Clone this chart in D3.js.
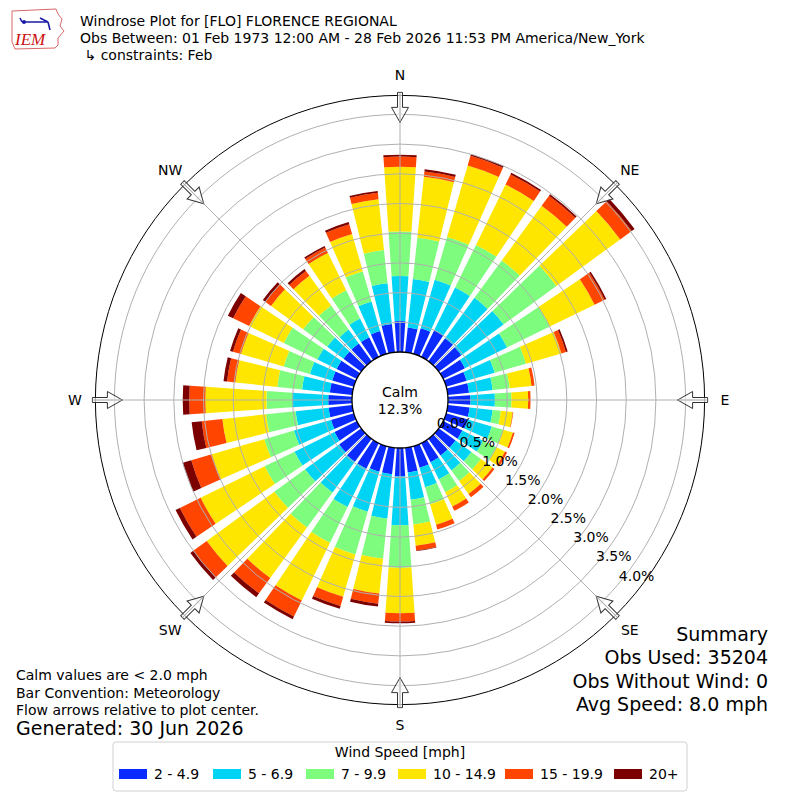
<!DOCTYPE html>
<html><head><meta charset="utf-8">
<script src="https://cdn.jsdelivr.net/npm/d3@7"></script>
<style>body{margin:0;background:#fff} svg{font-family:"DejaVu Sans",sans-serif}</style>
</head><body><svg id="c" width="800" height="800"></svg>
<script>
// ---- data ----
const directions = d3.range(0, 360, 10);
const speedBins = ["2 - 4.9", "5 - 6.9", "7 - 9.9", "10 - 14.9", "15 - 19.9", "20+"];
const binColors = ["#0a2aff", "#00d4f5", "#7dfc7d", "#ffe600", "#ff4500", "#7d0000"];
// percent frequency per direction (0,10,...,350) for each speed bin
const bin2to5   = [.52,.42,.45,.50,.48,.47,.41,.36,.36,.38,.37,.38,.36,.35,.35,.36,.38,.42,.48,.45,.45,.48,.48,.46,.42,.40,.40,.40,.38,.38,.38,.37,.37,.37,.40,.48];
const bin5to7   = [.76,.82,.85,.80,.84,.88,.79,.49,.40,.41,.39,.42,.39,.33,.31,.32,.34,.46,.82,.75,.70,.72,.64,.71,.75,.65,.56,.61,.47,.39,.36,.34,.29,.35,.52,.69];
const bin7to10  = [.75,.70,.75,.80,.78,1.10,.80,.55,.29,.28,.14,.20,.25,.20,.22,.24,.30,.42,.72,.68,.75,.67,.73,.64,.56,.52,.50,.43,.42,.46,.63,.50,.50,.53,.53,.56];
const bin10to15 = [1.09,1.03,1.25,1.13,1.14,1.33,.84,.62,.37,.28,.20,.17,.16,.24,.27,.27,.36,.36,.76,.59,.74,1.08,1.05,1.41,1.20,.92,.74,1.03,.71,.75,.65,.67,.62,.70,.65,.86];
const bin15to20 = [.17,.09,.17,.19,.21,.24,.19,.08,.05,.04,.01,.03,.04,.04,.07,.08,.08,.08,.14,.17,.16,.30,.32,.28,.39,.36,.35,.27,.14,.14,.30,.12,.10,.10,.17,.11];
const bin20plus = [.03,.04,.03,.03,.03,.06,.03,.03,0,0,0,0,0,0,0,0,0,.01,.03,.05,.05,.05,.08,.06,.08,.15,.17,.11,.06,.05,.10,.05,.04,.03,.04,.03];
const radialTicks = [0, 0.5, 1.0, 1.5, 2.0, 2.5, 3.0, 3.5, 4.0];
const compass = ["N","NE","E","SE","S","SW","W","NW"];
const calmPct = "12.3%";
const titleLines = ["Windrose Plot for [FLO] FLORENCE REGIONAL",
  "Obs Between: 01 Feb 1973 12:00 AM - 28 Feb 2026 11:53 PM America/New_York",
  " \u21b3 constraints: Feb"];
const noteLines = ["Calm values are < 2.0 mph", "Bar Convention: Meteorology", "Flow arrows relative to plot center."];
const generated = "Generated: 30 Jun 2026";
const summaryLines = ["Summary", "Obs Used: 35204", "Obs Without Wind: 0", "Avg Speed: 8.0 mph"];

// ---- build ----
const binArrays = [bin2to5, bin5to7, bin7to10, bin10to15, bin15to20, bin20plus];
const rows = directions.map((d, i) => {
  const o = {dir: d};
  speedBins.forEach((b, j) => o[b] = binArrays[j][i]);
  return o;
});
const stacked = d3.stack().keys(speedBins)(rows);

const svg = d3.select("#c");
const cx = 400, cy = 400;
const r = d3.scaleLinear().domain([0, 4]).range([48, 285.6]);
const rOuter = r(4.32);
const g = svg.append("g").attr("transform", `translate(${cx},${cy})`);
const rad = Math.PI / 180;
const half = 3.9;

const arc = d3.arc()
  .innerRadius(d => r(d[0]))
  .outerRadius(d => r(d[1]))
  .startAngle(d => (d.data.dir - half) * rad)
  .endAngle(d => (d.data.dir + half) * rad);

stacked.forEach((layer, j) => {
  g.append("g").selectAll("path").data(layer).join("path")
    .attr("d", arc).attr("fill", binColors[j]);
});

// grid rings
g.append("g").selectAll("circle").data(radialTicks.slice(1)).join("circle")
  .attr("r", d => r(d)).attr("fill", "none").attr("stroke", "#b0b0b0").attr("stroke-width", 1);
// radial lines
g.append("g").selectAll("line").data(d3.range(0, 360, 45)).join("line")
  .attr("x1", 0).attr("y1", 0)
  .attr("x2", d => rOuter * Math.sin(d * rad)).attr("y2", d => -rOuter * Math.cos(d * rad))
  .attr("stroke", "#b0b0b0").attr("stroke-width", 1);
// outer circle
g.append("circle").attr("r", rOuter).attr("fill", "none").attr("stroke", "#000").attr("stroke-width", 1);
// calm circle
g.append("circle").attr("r", r(0)).attr("fill", "#fff").attr("stroke", "#000").attr("stroke-width", 1.3);
g.append("text").attr("y", -3).attr("text-anchor", "middle").attr("font-size", 14).text("Calm");
g.append("text").attr("y", 14).attr("text-anchor", "middle").attr("font-size", 14).text(calmPct);

// arrows
const a0 = rOuter + 3, a1 = rOuter - 12, a2 = rOuter - 27;
const arrowPts = [[-2.5,-a0],[2.5,-a0],[2.5,-a1],[8.5,-a1],[0,-a2],[-8.5,-a1],[-2.5,-a1]];
g.append("g").selectAll("g").data(d3.range(0, 360, 45)).join("g")
  .attr("transform", d => `rotate(${d})`)
  .each(function() {
    const s = d3.select(this);
    s.append("path").attr("d", d3.line()(arrowPts) + "Z")
      .attr("fill", "#fff").attr("fill-opacity", 0.6).attr("stroke", "#333").attr("stroke-width", 1);
    s.append("line").attr("x1", 0).attr("x2", 0).attr("y1", -a0).attr("y2", -a2)
      .attr("stroke", "#b0b0b0").attr("stroke-width", 1);
  });

// compass labels
g.append("g").selectAll("text").data(compass).join("text")
  .attr("x", (d, i) => 325 * Math.sin(i * 45 * rad))
  .attr("y", (d, i) => -325 * Math.cos(i * 45 * rad))
  .attr("text-anchor", "middle").attr("dominant-baseline", "central")
  .attr("font-size", 14).text(d => d);

// radial tick labels
const la = 130 * rad;
g.append("g").selectAll("text").data(radialTicks).join("text")
  .attr("x", d => r(d) * Math.sin(la))
  .attr("y", d => -r(d) * Math.cos(la) - 3)
  .attr("font-size", 14).text(d => d.toFixed(1) + "%");

// title
svg.append("g").selectAll("text").data(titleLines).join("text")
  .attr("x", 80).attr("y", (d, i) => 25.5 + i * 17)
  .attr("font-size", 14).attr("xml:space", "preserve").text(d => d);

// logo
const logo = svg.append("g");
logo.append("path").attr("d", "M12,11 L56,9 L58,14 L62,19 L60,26 L64,31 L58,38 L58,45 L55,48 L15,49 L12,42 Z")
  .attr("fill", "none").attr("stroke", "#d04040").attr("stroke-width", 0.8);
logo.append("path").attr("d", "M22,22 L48,22 M48,22 L50,30 M40,18 L48,22 M20,18 L22,22")
  .attr("stroke", "#1a1aa8").attr("stroke-width", 1.6).attr("fill", "none");
logo.append("circle").attr("cx", 24).attr("cy", 22).attr("r", 2).attr("fill", "#1a1aa8");
logo.append("text").attr("x", 15).attr("y", 45).attr("font-family", "Liberation Serif, serif")
  .attr("font-style", "italic").attr("font-size", 17).attr("fill", "#cc1111").text("IEM");

// notes
svg.append("g").selectAll("text").data(noteLines).join("text")
  .attr("x", 16).attr("y", (d, i) => 680 + i * 17.5).attr("font-size", 14).text(d => d);
svg.append("text").attr("x", 16).attr("y", 735).attr("font-size", 19).text(generated);

// summary
svg.append("g").selectAll("text").data(summaryLines).join("text")
  .attr("x", 768).attr("y", (d, i) => 641 + i * 23.3).attr("text-anchor", "end")
  .attr("font-size", 19).text(d => d);

// legend
const lg = svg.append("g");
lg.append("rect").attr("x", 113).attr("y", 742).attr("width", 574).attr("height", 49).attr("rx", 3)
  .attr("fill", "#fff").attr("stroke", "#d0d0d0");
lg.append("text").attr("x", 400).attr("y", 757).attr("text-anchor", "middle").attr("font-size", 14).text("Wind Speed [mph]");
const swX = [119, 213, 306, 398, 505, 614];
speedBins.forEach((b, j) => {
  lg.append("rect").attr("x", swX[j]).attr("y", 769).attr("width", 28).attr("height", 10).attr("fill", binColors[j]);
  lg.append("text").attr("x", swX[j] + 35).attr("y", 779).attr("font-size", 14).text(b);
});
</script></body></html>
